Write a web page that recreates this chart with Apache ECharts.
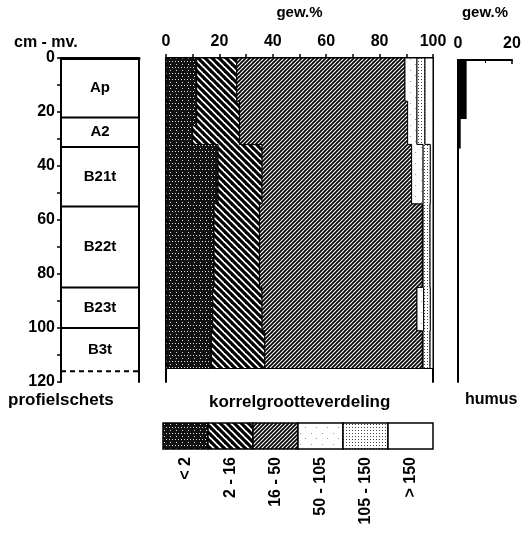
<!DOCTYPE html>
<html>
<head>
<meta charset="utf-8">
<script src="https://cdn.jsdelivr.net/npm/echarts@6/dist/echarts.min.js"></script>
<style>
  body { margin: 0; background: #fff; }
  #main { width: 528px; height: 546px; }
</style>
</head>
<body>
<div id="main"></div>
<script>
// profile sketch (horizons, cm below surface)
const horizonName = ['Ap', 'A2', 'B21t', 'B22t', 'B23t', 'B3t'];
const horizonTop = [0, 22, 33, 55, 85, 100];
const horizonBottom = [22, 33, 55, 85, 100, 116];

// grain size distribution, gew.% per sampled layer
const layerTop = [0, 16, 25, 32, 54, 85, 101];
const layerBottom = [16, 25, 32, 54, 85, 101, 115];
const lutum = [11.5, 11.5, 10, 19.5, 18, 17.5, 17];       // < 2
const silt2_16 = [15, 16, 17.5, 16.5, 17, 18.5, 20];       // 2 - 16
const silt16_50 = [63, 63, 63, 56, 61, 58, 59];            // 16 - 50
const sand50_105 = [4.5, 3.5, 3.5, 4.3, 0.3, 2.5, 0.3];    // 50 - 105
const sand105_150 = [3, 3, 3, 2.7, 2.6, 2.5, 2.6];         // 105 - 150
const sand150 = [3, 3, 3, 1, 1.1, 1, 1.1];                 // > 150
const fractionLabels = ['< 2', '2 - 16', '16 - 50', '50 - 105', '105 - 150', '> 150'];

// humus
const humusTop = [0, 22, 33];
const humusBottom = [22, 33, 115];
const humus = [3.2, 1.0, 0.2];

const fractions = [lutum, silt2_16, silt16_50, sand50_105, sand105_150, sand150];
const FAMILY = '"Liberation Sans", Arial, sans-serif';
const FONT = 'bold 16px ' + FAMILY;

function makePattern(size, draw) {
  const c = document.createElement('canvas');
  c.width = c.height = size;
  const ctx = c.getContext('2d');
  ctx.fillStyle = '#fff';
  ctx.fillRect(0, 0, size, size);
  draw(ctx, size);
  return { image: c, repeat: 'repeat' };
}
function diag(ctx, s, w, up) {
  ctx.strokeStyle = '#000';
  ctx.lineWidth = w;
  for (let k = -1; k <= 1; k++) {
    ctx.beginPath();
    if (up) { ctx.moveTo(k * s - 1, s + 1); ctx.lineTo(k * s + s + 1, -1); }
    else { ctx.moveTo(k * s - 1, -1); ctx.lineTo(k * s + s + 1, s + 1); }
    ctx.stroke();
  }
}
const patterns = [
  makePattern(6, function (ctx) {
    ctx.fillStyle = '#111'; ctx.fillRect(0, 0, 6, 6);
    ctx.fillStyle = '#ddd';
    ctx.fillRect(1, 1, 1, 1); ctx.fillRect(4, 1, 1, 1); ctx.fillRect(2, 4, 1, 1);
  }),
  makePattern(7, function (ctx, s) { diag(ctx, s, 3.2, false); }),
  makePattern(4, function (ctx, s) { diag(ctx, s, 1.7, true); }),
  makePattern(11, function (ctx) { ctx.fillStyle = '#999'; ctx.fillRect(3, 4, 1, 1); ctx.fillRect(8, 9, 1, 1); }),
  makePattern(3, function (ctx) { ctx.fillStyle = '#444'; ctx.fillRect(1, 1, 1, 1); }),
  makePattern(4, function () {})
];

function cum(k, j) {
  let s = 0;
  for (let f = 0; f < k; f++) s += fractions[f][j];
  return s;
}

const nameStyle = { fontSize: 15, fontWeight: 'bold', fontFamily: FAMILY, color: '#000' };
const labelStyle = { fontSize: 16, fontWeight: 'bold', fontFamily: FAMILY, color: '#000' };

const chart = echarts.init(document.getElementById('main'));

const option = {
  animation: false,
  backgroundColor: '#fff',
  textStyle: { fontFamily: FAMILY },
  grid: [
    { left: 61, top: 58, width: 78, height: 324 },
    { left: 166, top: 58, width: 267, height: 324 },
    { left: 458, top: 60, width: 54, height: 322 },
    { left: 163, top: 423, width: 270, height: 26 }
  ],
  xAxis: [
    { gridIndex: 0, type: 'value', min: 0, max: 1, position: 'top',
      axisLine: { lineStyle: { color: '#000', width: 3 } },
      axisTick: { show: false }, axisLabel: { show: false }, splitLine: { show: false } },
    { gridIndex: 1, type: 'value', min: 0, max: 100, interval: 20, position: 'top',
      name: 'gew.%', nameLocation: 'middle', nameGap: 38, nameTextStyle: nameStyle,
      axisLine: { lineStyle: { color: '#000', width: 2 } },
      axisTick: { length: 4, lineStyle: { color: '#000', width: 1.5 } },
      minorTick: { show: true, splitNumber: 2, length: 4, lineStyle: { color: '#000', width: 1.5 } },
      axisLabel: Object.assign({ margin: 8 }, labelStyle),
      splitLine: { show: false } },
    { gridIndex: 2, type: 'value', min: 0, max: 20, interval: 20, position: 'top',
      name: 'gew.%', nameLocation: 'middle', nameGap: 40, nameTextStyle: nameStyle,
      axisLine: { lineStyle: { color: '#000', width: 2 } },
      axisTick: { inside: true, length: 4, lineStyle: { color: '#000', width: 1.5 } },
      minorTick: { show: true, splitNumber: 2, length: 3, lineStyle: { color: '#000' } },
      axisLabel: Object.assign({ margin: 8 }, labelStyle),
      splitLine: { show: false } },
    { gridIndex: 3, type: 'category', data: fractionLabels, position: 'bottom',
      axisLine: { show: false }, axisTick: { show: false },
      axisLabel: Object.assign({ interval: 0, rotate: 90, margin: 8 }, labelStyle) }
  ],
  yAxis: [
    { gridIndex: 0, type: 'value', min: 0, max: 120, interval: 20, inverse: true,
      axisLine: { show: true, lineStyle: { color: '#000', width: 2 } },
      axisTick: { show: true, length: 4, lineStyle: { color: '#000', width: 1.5 } },
      minorTick: { show: true, splitNumber: 2, length: 4, lineStyle: { color: '#000', width: 1.5 } },
      axisLabel: Object.assign({ margin: 6 }, labelStyle),
      splitLine: { show: false } },
    { gridIndex: 0, type: 'value', min: 0, max: 120, inverse: true, position: 'right',
      axisLine: { show: true, lineStyle: { color: '#000', width: 2 } },
      axisTick: { show: false }, axisLabel: { show: false }, splitLine: { show: false } },
    { gridIndex: 1, type: 'value', min: 0, max: 120, inverse: true,
      axisLine: { show: true, lineStyle: { color: '#000', width: 2 } },
      axisTick: { show: false }, axisLabel: { show: false }, splitLine: { show: false } },
    { gridIndex: 1, type: 'value', min: 0, max: 120, inverse: true, position: 'right',
      axisLine: { show: true, lineStyle: { color: '#000', width: 2 } },
      axisTick: { show: false }, axisLabel: { show: false }, splitLine: { show: false } },
    { gridIndex: 2, type: 'value', min: 0, max: 120, inverse: true,
      axisLine: { show: true, lineStyle: { color: '#000', width: 2 } },
      axisTick: { show: false }, axisLabel: { show: false }, splitLine: { show: false } },
    { gridIndex: 3, type: 'value', min: 0, max: 1, show: false }
  ],
  series: [
    { // horizons
      type: 'custom', xAxisIndex: 0, yAxisIndex: 0,
      data: horizonName.map(function (n, i) { return [0, horizonTop[i]]; }),
      renderItem: function (params, api) {
        const i = params.dataIndex;
        const tl = api.coord([0, horizonTop[i]]);
        const br = api.coord([1, horizonBottom[i]]);
        const last = i === horizonName.length - 1;
        return {
          type: 'group',
          children: [
            { type: 'line', shape: { x1: tl[0], y1: br[1], x2: br[0], y2: br[1] },
              style: { stroke: '#000', lineWidth: 2, lineDash: last ? [5, 4] : null } },
            { type: 'text', style: { text: horizonName[i], x: (tl[0] + br[0]) / 2, y: (tl[1] + br[1]) / 2,
              align: 'center', verticalAlign: 'middle', font: 'bold 15px ' + FAMILY, fill: '#000' } }
          ]
        };
      }
    },
    { // grain size fractions, stacked
      type: 'custom', xAxisIndex: 1, yAxisIndex: 2,
      data: fractionLabels.map(function (l, k) { return [k, 0]; }),
      renderItem: function (params, api) {
        const k = params.dataIndex;
        const pts = [];
        for (let j = 0; j < layerTop.length; j++) {
          const r = cum(k + 1, j);
          pts.push(api.coord([r, layerTop[j]]));
          pts.push(api.coord([r, layerBottom[j]]));
        }
        for (let j = layerTop.length - 1; j >= 0; j--) {
          const l = cum(k, j);
          pts.push(api.coord([l, layerBottom[j]]));
          pts.push(api.coord([l, layerTop[j]]));
        }
        return { type: 'polygon', shape: { points: pts },
          style: { fill: patterns[k], stroke: '#000', lineWidth: 1 } };
      }
    },
    { // humus
      type: 'custom', xAxisIndex: 2, yAxisIndex: 4,
      data: humus.map(function (h, i) { return [h, humusTop[i]]; }),
      renderItem: function (params, api) {
        const i = params.dataIndex;
        const a = api.coord([0, humusTop[i]]);
        const b = api.coord([humus[i], humusBottom[i]]);
        return { type: 'rect', shape: { x: a[0], y: a[1], width: b[0] - a[0], height: b[1] - a[1] },
          style: { fill: '#000' } };
      }
    },
    { // legend boxes
      type: 'custom', xAxisIndex: 3, yAxisIndex: 5,
      data: fractionLabels.map(function (l, k) { return [k, 1]; }),
      renderItem: function (params, api) {
        const k = params.dataIndex;
        const c = api.coord([k, 1]);
        const w = api.size([1, 0])[0];
        const h = api.size([0, 1])[1];
        return { type: 'rect', shape: { x: c[0] - w / 2, y: c[1], width: w, height: h },
          style: { fill: patterns[k], stroke: '#000', lineWidth: 1.5 } };
      }
    }
  ],
  graphic: [
    { type: 'text', left: 14, top: 35, style: { text: 'cm - mv.', font: FONT, fill: '#000' } },
    { type: 'text', left: 8, top: 392, style: { text: 'profielschets', font: 'bold 17px ' + FAMILY, fill: '#000' } },
    { type: 'text', left: 209, top: 394, style: { text: 'korrelgrootteverdeling', font: 'bold 17px ' + FAMILY, fill: '#000' } },
    { type: 'text', left: 465, top: 392, style: { text: 'humus', font: FONT, fill: '#000' } }
  ]
};

chart.setOption(option);
</script>
</body>
</html>
